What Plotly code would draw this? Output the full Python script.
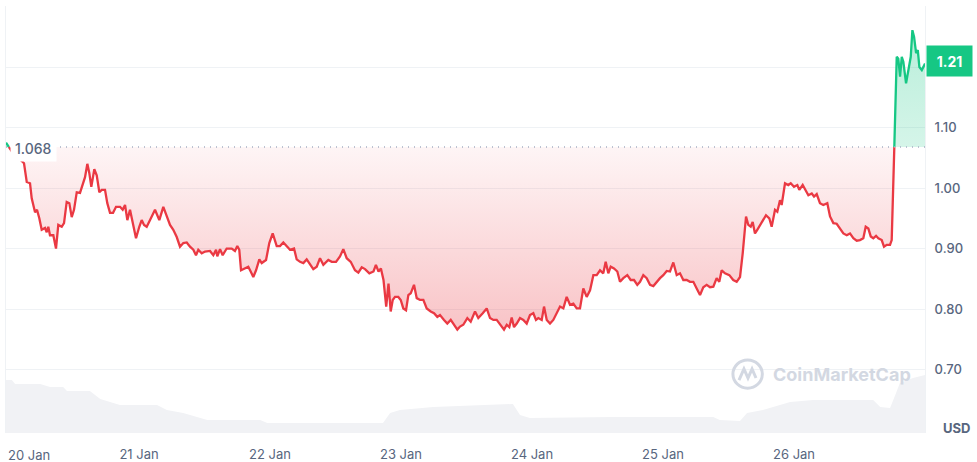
import pandas as pd
import plotly.graph_objects as go

# ---------------- data ----------------
start_date = "2025-01-20"
base_price = 1.068
last_price = 1.21

# hours since 20 Jan 00:00 and price (USD)
hours = [
    -0.37, 0.73, 2.93, 3.43, 4.03, 4.34, 4.95, 5.31, 5.73, 6.17, 6.78, 7.09, 7.38, 7.69, 8.30, 8.79,
    9.21, 9.84, 10.26, 10.75, 11.23, 11.67, 12.09, 12.59, 13.19, 13.68, 14.11, 14.53, 14.89, 15.26,
    15.81, 16.25, 16.73, 17.17, 17.77, 18.19, 18.69, 19.24, 19.79, 20.52, 21.01, 21.44, 21.86, 22.35,
    22.85, 23.45, 24.05, 24.49, 24.92, 25.41, 26.02, 26.51, 26.93, 27.35, 27.72, 28.45, 29.07, 29.68,
    30.28, 30.91, 31.51, 32.12, 32.74, 33.34, 33.95, 34.44, 34.86, 35.49, 36.09, 37.01, 37.61, 38.11,
    38.34, 38.84, 39.33, 40.06, 40.98, 41.58, 42.01, 42.37, 42.69, 43.42, 44.02, 44.46, 44.94, 45.44,
    46.04, 46.48, 47.27, 47.87, 48.49, 49.23, 49.83, 50.44, 51.06, 51.66, 52.40, 52.89, 53.50, 54.10,
    54.72, 55.33, 55.93, 56.56, 57.16, 57.77, 58.26, 58.68, 59.31, 60.09, 60.82, 61.43, 62.05, 62.79,
    63.57, 64.18, 64.81, 65.41, 66.20, 66.96, 67.40, 67.88, 68.32, 68.79, 69.29, 69.71, 70.11, 70.48,
    70.90, 71.50, 71.95, 72.42, 72.92, 73.34, 73.78, 74.38, 74.88, 75.48, 76.09, 76.71, 77.44, 78.05,
    78.65, 79.14, 79.88, 80.48, 81.11, 81.71, 82.32, 82.81, 83.41, 84.15, 84.77, 85.56, 86.16, 86.97,
    87.70, 88.31, 88.91, 89.53, 90.14, 90.87, 91.37, 91.84, 92.28, 92.70, 93.20, 93.80, 94.41, 95.03,
    95.63, 96.24, 96.73, 97.16, 97.78, 98.20, 98.70, 99.30, 99.90, 100.52, 101.13, 101.74, 102.35,
    102.96, 103.57, 104.19, 104.79, 105.40, 106.02, 106.63, 107.24, 107.85, 108.46, 109.06, 109.50,
    109.98, 110.42, 111.02, 111.63, 112.12, 112.73, 113.46, 114.08, 114.69, 115.29, 115.79, 116.39,
    117.01, 117.62, 118.23, 118.85, 119.45, 120.05, 120.68, 121.28, 121.89, 122.51, 123.11, 123.72,
    124.34, 124.95, 125.56, 126.17, 126.78, 127.38, 128.00, 128.61, 129.22, 129.83, 130.31, 130.75,
    131.36, 132.15, 132.87, 133.50, 134.11, 134.60, 135.21, 135.63, 136.07, 136.43, 136.85, 137.27,
    137.77, 138.26, 138.87, 139.47, 139.91, 140.52, 140.94, 141.43, 141.74, 142.35, 142.95, 143.40,
    144.00, 144.61, 144.97, 145.59, 146.20, 146.63, 147.25, 147.67, 148.16, 148.76, 149.37, 150.10,
    150.60, 151.21, 151.82, 152.43, 153.04, 153.66, 154.26, 154.87, 155.49, 156.09, 156.70, 157.14,
    157.62, 158.06, 158.53, 159.03, 159.45, 160.07, 160.49, 160.99, 161.59, 161.90, 162.19, 162.38,
    162.63, 162.82, 163.11, 163.43, 163.74, 164.03, 164.53, 164.95, 165.39, 165.69, 166.00, 166.37,
    166.68, 166.97, 167.41, 168.01,
]
price = [
    1.075, 1.060, 1.041, 1.010, 1.008, 0.983, 0.960, 0.964, 0.950, 0.931, 0.934, 0.927, 0.936, 0.922, 0.922, 0.900,
    0.939, 0.936, 0.942, 0.977, 0.975, 0.952, 0.964, 0.993, 0.992, 1.008, 1.018, 1.040, 1.025, 1.002,
    1.031, 1.021, 0.993, 0.997, 0.997, 0.975, 0.959, 0.959, 0.969, 0.969, 0.964, 0.972, 0.947, 0.964,
    0.944, 0.917, 0.936, 0.947, 0.939, 0.936, 0.947, 0.955, 0.964, 0.955, 0.947, 0.969, 0.952, 0.939,
    0.931, 0.919, 0.903, 0.909, 0.910, 0.903, 0.898, 0.889, 0.898, 0.892, 0.895, 0.896, 0.889, 0.898,
    0.887, 0.899, 0.889, 0.900, 0.900, 0.896, 0.904, 0.898, 0.864, 0.867, 0.870, 0.862, 0.853, 0.864,
    0.882, 0.876, 0.881, 0.909, 0.925, 0.904, 0.904, 0.910, 0.903, 0.898, 0.900, 0.882, 0.878, 0.876,
    0.882, 0.873, 0.866, 0.870, 0.884, 0.873, 0.878, 0.881, 0.878, 0.878, 0.887, 0.899, 0.884, 0.878,
    0.864, 0.860, 0.869, 0.866, 0.859, 0.862, 0.873, 0.862, 0.867, 0.848, 0.804, 0.842, 0.796, 0.815,
    0.820, 0.820, 0.815, 0.801, 0.798, 0.823, 0.826, 0.840, 0.818, 0.815, 0.815, 0.801, 0.796, 0.793,
    0.787, 0.790, 0.782, 0.776, 0.782, 0.774, 0.766, 0.771, 0.774, 0.785, 0.779, 0.796, 0.785, 0.793,
    0.801, 0.785, 0.782, 0.782, 0.774, 0.766, 0.774, 0.770, 0.786, 0.770, 0.776, 0.785, 0.782, 0.776,
    0.790, 0.793, 0.782, 0.785, 0.782, 0.804, 0.782, 0.776, 0.782, 0.793, 0.804, 0.801, 0.820,
    0.807, 0.809, 0.801, 0.801, 0.834, 0.820, 0.831, 0.856, 0.856, 0.864, 0.859, 0.878,
    0.859, 0.870, 0.867, 0.862, 0.845, 0.851, 0.856, 0.848, 0.848, 0.840, 0.845, 0.856,
    0.851, 0.840, 0.838, 0.845, 0.851, 0.856, 0.863, 0.862, 0.877, 0.856, 0.859, 0.848,
    0.848, 0.845, 0.845, 0.834, 0.823, 0.836, 0.840, 0.836, 0.837, 0.851, 0.845, 0.864,
    0.859, 0.856, 0.848, 0.845, 0.853, 0.892, 0.953, 0.939, 0.936, 0.944, 0.925, 0.931,
    0.939, 0.947, 0.955, 0.950, 0.936, 0.964, 0.961, 0.980, 0.972, 1.008, 1.005, 1.008,
    1.002, 1.005, 0.997, 1.005, 0.994, 0.988, 0.991, 0.986, 0.990, 0.975, 0.972, 0.975,
    0.953, 0.942, 0.941, 0.933, 0.925, 0.922, 0.925, 0.917, 0.913, 0.914, 0.917, 0.936,
    0.933, 0.920, 0.917, 0.921, 0.917, 0.914, 0.903, 0.906, 0.906, 0.914, 1.002, 1.068,
    1.140, 1.217, 1.214, 1.184, 1.217, 1.209, 1.173, 1.195, 1.217, 1.261, 1.250, 1.223,
    1.228, 1.200, 1.195, 1.206,
]

# trading volume (relative units)
vol_hours = [-0.37, 0.7, 1.3, 5.9, 7.7, 10.1, 10.8, 15.0, 16.9, 18.7, 20.5, 27.3, 29.1, 32.1, 35.2, 36.5,
             46.2, 47.5, 68.7, 70.0, 71.8, 77.9, 92.5, 93.8, 95.6, 110.8, 129.2, 130.4, 134.1, 135.4,
             138.3, 143.3, 147.5, 158.5, 159.8, 161.6, 162.7, 163.4, 165.8, 168.0]
volume = [53, 53, 49, 49, 46, 46, 42, 42, 34, 31, 28, 28, 23, 20, 15, 13,
          13, 10, 10, 20, 23, 26, 29, 18, 15, 16, 16, 13, 12, 20,
          23, 31, 33, 33, 26, 25, 40, 50, 55, 58]

day_ticks = ["2025-01-21", "2025-01-22", "2025-01-23", "2025-01-24", "2025-01-25", "2025-01-26"]
day_labels = ["21 Jan", "22 Jan", "23 Jan", "24 Jan", "25 Jan", "26 Jan"]
first_label = "20 Jan"
y_ticks = [0.7, 0.8, 0.9, 1.0, 1.1, 1.2, 1.3]
y_labels = ["0.70", "0.80", "0.90", "1.00", "1.10", "", ""]

RED = "#ea3943"
GREEN = "#16c784"
TXT = "#58667e"
GRID = "#eff2f5"

# ---------------- build segments ----------------
t0 = pd.Timestamp(start_date)
aug_h, aug_p = [], []
for i in range(len(hours)):
    if i > 0:
        p0, p1 = price[i - 1], price[i]
        if (p0 - base_price) * (p1 - base_price) < 0:
            f = (base_price - p0) / (p1 - p0)
            aug_h.append(hours[i - 1] + f * (hours[i] - hours[i - 1]))
            aug_p.append(base_price)
    aug_h.append(hours[i])
    aug_p.append(price[i])

xs = [t0 + pd.Timedelta(hours=h) for h in aug_h]
red_line = [p if p <= base_price + 1e-9 else None for p in aug_p]
green_line = [p if p >= base_price - 1e-9 else None for p in aug_p]
red_fill = [min(p, base_price) for p in aug_p]
green_fill = [max(p, base_price) for p in aug_p]
base_line = [base_price] * len(aug_p)

vx = [t0 + pd.Timedelta(hours=h) for h in vol_hours]

fig = go.Figure()

fig.add_trace(go.Scatter(x=vx, y=volume, yaxis="y2", mode="lines", line=dict(width=0),
                         fill="tozeroy", fillcolor="#f1f2f5", hoverinfo="skip"))

fig.add_trace(go.Scatter(x=xs, y=base_line, mode="lines", line=dict(width=0), hoverinfo="skip"))
fig.add_trace(go.Scatter(x=xs, y=red_fill, mode="lines", line=dict(width=0), fill="tonexty",
                         fillgradient=dict(type="vertical",
                                           colorscale=[[0, "rgba(234,57,67,0.30)"],
                                                       [1, "rgba(234,57,67,0.05)"]]),
                         hoverinfo="skip"))
fig.add_trace(go.Scatter(x=xs, y=base_line, mode="lines", line=dict(width=0), hoverinfo="skip"))
fig.add_trace(go.Scatter(x=xs, y=green_fill, mode="lines", line=dict(width=0), fill="tonexty",
                         fillgradient=dict(type="vertical",
                                           colorscale=[[0, "rgba(22,199,132,0.18)"],
                                                       [1, "rgba(22,199,132,0.30)"]]),
                         hoverinfo="skip"))

fig.add_shape(type="line", xref="paper", x0=0, x1=1, yref="y", y0=base_price, y1=base_price,
              line=dict(color="#a6b0c3", width=1.5, dash="1px,5px"))

fig.add_trace(go.Scatter(x=xs, y=red_line, mode="lines", line=dict(color=RED, width=2.3),
                         connectgaps=False))
fig.add_trace(go.Scatter(x=xs, y=green_line, mode="lines", line=dict(color=GREEN, width=2.3),
                         connectgaps=False))

# watermark logo
fig.add_shape(type="circle", xref="paper", yref="paper", x0=0.791, x1=0.823, y0=0.105, y1=0.171,
              line=dict(color="#d3d8e2", width=3))
fig.add_shape(type="path", xref="paper", yref="paper",
              path="M 0.7976 0.1241 L 0.8030 0.1499 L 0.8074 0.1288 L 0.8118 0.1499 L 0.8161 0.1288",
              line=dict(color="#d3d8e2", width=3))

fig.update_layout(
    width=977, height=462,
    margin=dict(l=6, r=52, t=6, b=29, autoexpand=False),
    paper_bgcolor="white", plot_bgcolor="white",
    showlegend=False,
    font=dict(family="Inter, Roboto, sans-serif", color=TXT),
    xaxis=dict(type="date", automargin=False,
               range=[t0 + pd.Timedelta(hours=-0.37), t0 + pd.Timedelta(hours=168.0)],
               tickvals=day_ticks, ticktext=day_labels, showgrid=False, zeroline=False,
               ticks="", showline=False, tickfont=dict(size=13, color=TXT),
               ticklabelstandoff=12),
    yaxis=dict(side="right", automargin=False, range=[0.595, 1.301], tickvals=y_ticks,
               ticktext=y_labels,
               showgrid=True, gridcolor=GRID, gridwidth=1, zeroline=False,
               showline=True, mirror=True, linecolor=GRID, linewidth=1, ticks="",
               ticklabelstandoff=6, tickfont=dict(size=13, color=TXT, weight=500)),
    yaxis2=dict(overlaying="y", range=[0, 427], visible=False),
    annotations=[
        dict(xref="paper", x=1, xanchor="left", xshift=1, yref="y", y=last_price,
             text="<b>%.2f</b>" % last_price, showarrow=False, bgcolor=GREEN, borderpad=7,
             width=31, height=16, font=dict(size=14, color="white")),
        dict(xref="paper", x=0, xanchor="left", xshift=4, yref="y", y=base_price, yshift=-2,
             text="%.3f" % base_price, showarrow=False, bgcolor="white", borderpad=4,
             font=dict(size=14, color=TXT, weight=500)),
        dict(xref="paper", x=1, xanchor="left", xshift=16, yref="paper", y=0.012,
             yanchor="middle", text="<b>USD</b>", showarrow=False,
             font=dict(size=13, color=TXT)),
        dict(xref="paper", x=0, xanchor="left", xshift=0, yref="paper", y=0, yanchor="top",
             yshift=-12, text=first_label, showarrow=False, font=dict(size=13, color=TXT)),
        dict(xref="paper", x=0.832, xanchor="left", yref="paper", y=0.138, yanchor="middle",
             text="<b>CoinMarketCap</b>", showarrow=False,
             font=dict(size=18, color="#d3d8e2")),
    ],
)

fig.write_html("out.html", config={"displayModeBar": False},
               post_script="document.body.style.margin='0';")
